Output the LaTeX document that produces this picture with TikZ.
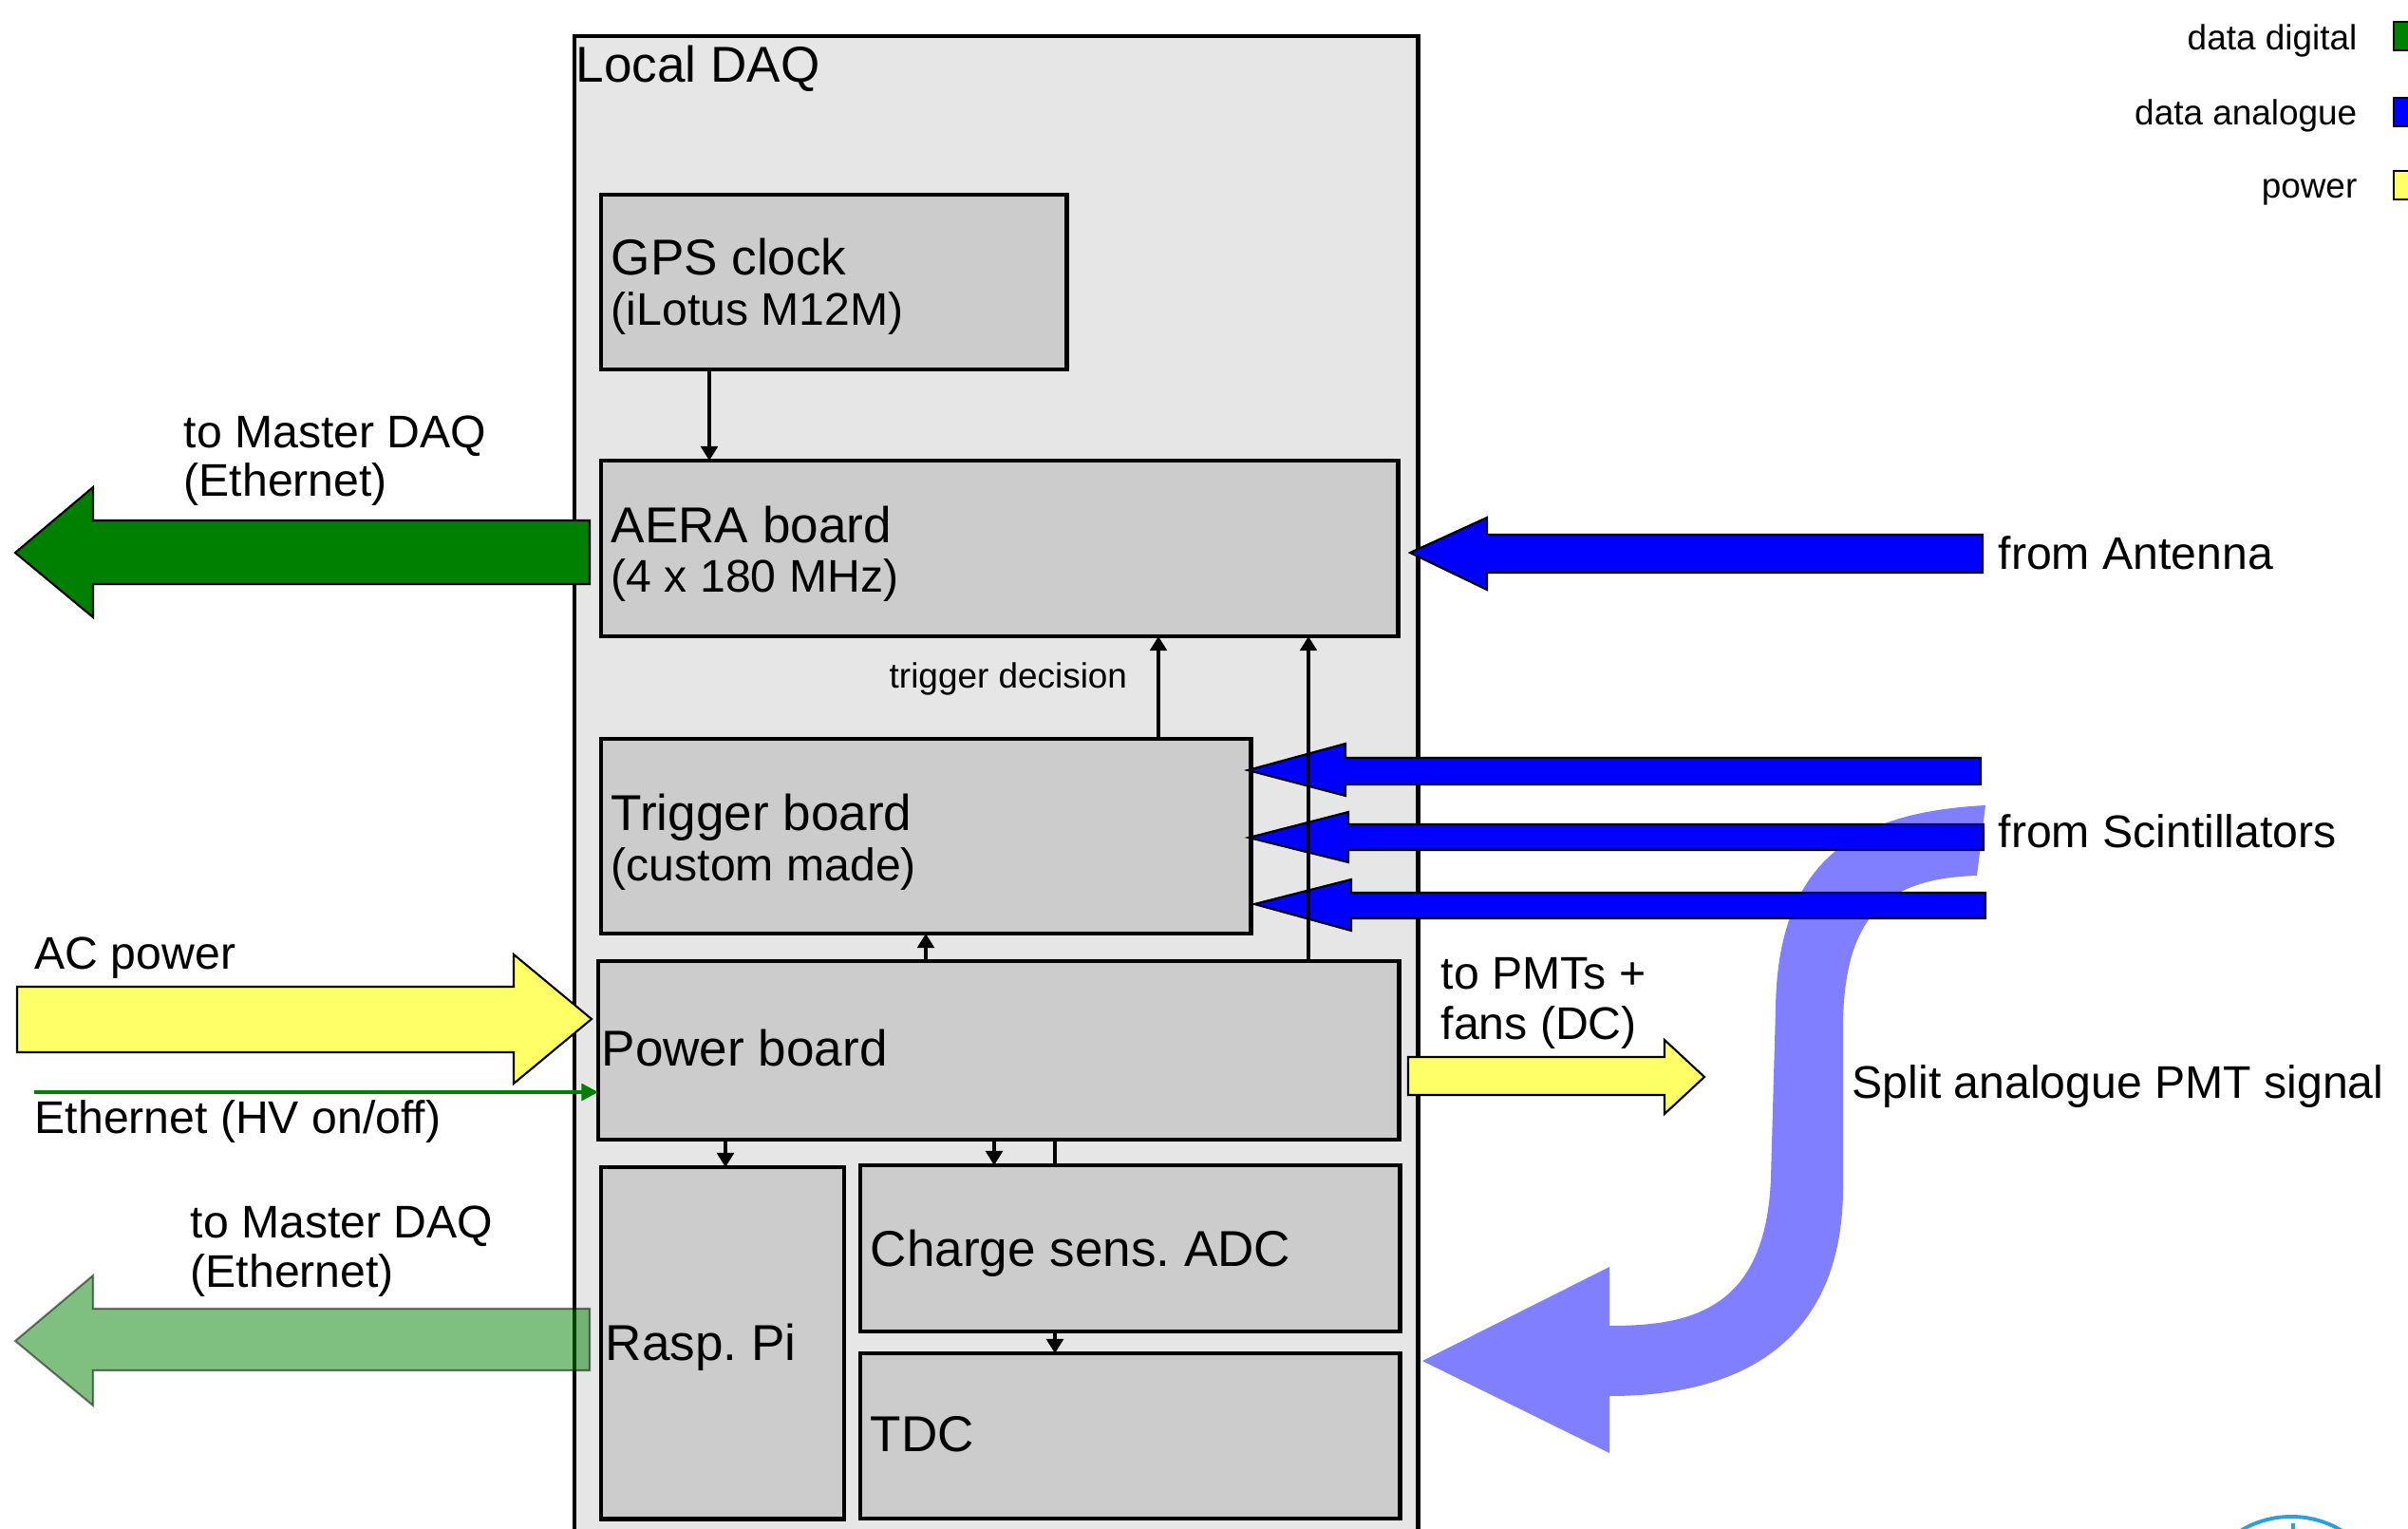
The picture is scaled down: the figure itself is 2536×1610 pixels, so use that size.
\documentclass[tikz,border=0pt]{standalone}
\usepackage{fontspec}
\setmainfont{Liberation Sans}
\usetikzlibrary{arrows.meta,calc}
\frenchspacing
\definecolor{boardgray}{RGB}{204,204,204}
\definecolor{daqgray}{RGB}{230,230,230}
\definecolor{digigreen}{RGB}{0,128,0}
\definecolor{anablue}{RGB}{0,0,255}
\definecolor{powyellow}{RGB}{255,255,102}
\definecolor{logoblue}{RGB}{40,160,225}
\newcommand\fbig{\fontsize{15.1pt}{15.1pt}\selectfont}
\newcommand\fmid{\fontsize{13.7pt}{13.7pt}\selectfont}
\newcommand\fsmall{\fontsize{10.5pt}{10.5pt}\selectfont}
\begin{document}
\begin{tikzpicture}[x=0.01cm,y=-0.01cm,
  board/.style={draw=black, line width=1.3pt, fill=boardgray, inner sep=0pt, outer sep=0pt, anchor=north west},
  boxtext/.style={inner sep=0pt, anchor=base west, font=\fbig},
  subtext/.style={inner sep=0pt, anchor=base west, font=\fmid},
  sidetext/.style={inner sep=0pt, anchor=base west, font=\fmid},
  legtext/.style={inner sep=0pt, anchor=base east, font=\fsmall},
  conn/.style={line width=0.9pt, -{Triangle[length=4.3pt,width=5.1pt]}},
  link/.style={line width=0.9pt},
  blockarrow/.style={draw=black, line width=0.6pt, line join=miter},
  legbox/.style={draw=black, line width=0.6pt}]
\useasboundingbox (0,0) rectangle (2536,1610);
\clip (0,0) rectangle (2536,1610);

% Local DAQ enclosure
\node[board, fill=daqgray, line width=1.2pt, minimum width=8.88cm, minimum height=17cm] (daq) at (605,38) {};
\node[boxtext] (daqlbl) at (606,87) {Local DAQ};

% boards
\node[board, minimum width=4.90cm, minimum height=1.84cm] (gps) at (633,205) {};
\node[board, minimum width=8.39cm, minimum height=1.85cm] (aera) at (633,485) {};
\node[board, minimum width=6.84cm, minimum height=2.05cm] (trig) at (633,778) {};
\node[board, minimum width=8.43cm, minimum height=1.88cm] (power) at (630,1012) {};
\node[board, minimum width=2.56cm, minimum height=3.70cm] (rpi) at (633,1229) {};
\node[board, minimum width=5.68cm, minimum height=1.75cm] (adc) at (906,1227) {};
\node[board, minimum width=5.68cm, minimum height=1.74cm] (tdc) at (906,1425) {};

\node[boxtext] (gpsa) at (643,290) {GPS clock};
\node[subtext] (gpsb) at (643,343) {(iLotus M12M)};
\node[boxtext] (aeraa) at (643,572) {AERA board};
\node[subtext] (aerab) at (643,624) {(4 x 180 MHz)};
\node[boxtext] (triga) at (643,875) {Trigger board};
\node[subtext] (trigb) at (643,928) {(custom made)};
\node[boxtext] (powera) at (633,1123) {Power board};
\node[boxtext] (rpia) at (637,1432) {Rasp. Pi};
\node[boxtext] (adca) at (916,1333) {Charge sens. ADC};
\node[boxtext] (tdca) at (916,1528) {TDC};
\node[inner sep=0pt, anchor=base west, font=\fsmall] (trigdec) at (936,725) {trigger decision};

% digital data out of the AERA board
\draw[blockarrow, fill=digigreen] (621,548) -- (98,548) -- (98,513) -- (16,582) -- (98,650) -- (98,615) -- (621,615) -- cycle;
\node[sidetext] (mastera) at (193,472) {to Master DAQ};
\node[sidetext] (masterb) at (193,523) {(Ethernet)};

% digital data out of the Raspberry Pi
\draw[blockarrow, fill=digigreen, fill opacity=0.5, draw opacity=0.5] (621,1378) -- (98,1378) -- (98,1343) -- (16,1412) -- (98,1480) -- (98,1443) -- (621,1443) -- cycle;
\node[sidetext] (masterc) at (200,1303) {to Master DAQ};
\node[sidetext] (masterd) at (200,1355) {(Ethernet)};

% AC power in
\draw[blockarrow, fill=powyellow] (18,1039) -- (541,1039) -- (541,1005) -- (623,1073) -- (541,1141) -- (541,1108) -- (18,1108) -- cycle;
\node[sidetext] (acpow) at (36,1021) {AC power};

% HV control over Ethernet
\coordinate (ethin) at (36,1150);
\draw[line width=1.1pt, draw=digigreen, -{Triangle[length=5pt,width=5pt,fill=digigreen]}] (ethin) -- (ethin -| power.west);
\node[sidetext] (ethlbl) at (36,1193) {Ethernet (HV on/off)};

% DC power out
\draw[blockarrow, fill=powyellow] (1483,1113) -- (1753,1113) -- (1753,1095) -- (1795,1134) -- (1753,1173) -- (1753,1153) -- (1483,1153) -- cycle;
\node[sidetext] (pmta) at (1517,1042) {to PMTs +};
\node[sidetext] (pmtb) at (1517,1094) {fans (DC)};

% analogue inputs
\draw[blockarrow, fill=anablue] (2088,563) -- (1566,563) -- (1566,545) -- (1485,582) -- (1566,621) -- (1566,603) -- (2088,603) -- cycle;
\node[sidetext] (antlbl) at (2104,600) {from Antenna};
\draw[blockarrow, fill=anablue] (2086,798) -- (1417,798) -- (1417,783) -- (1314,811) -- (1417,838) -- (1417,826) -- (2086,826) -- cycle;
\draw[blockarrow, fill=anablue] (2089,868) -- (1420,868) -- (1420,855) -- (1315,882) -- (1420,908) -- (1420,895) -- (2089,895) -- cycle;
\draw[blockarrow, fill=anablue] (2091,940) -- (1423,940) -- (1423,926) -- (1321,952) -- (1423,980) -- (1423,967) -- (2091,967) -- cycle;
\node[sidetext] (scilbl) at (2104,893) {from Scintillators};

% internal connections
\draw[conn] ($(gps.south west)+(114,0)$) -- ($(aera.north west)+(114,0)$);
\coordinate (tdec) at ($(trig.north west)+(587,0)$);
\draw[conn] (tdec) -- (tdec |- aera.south);
\coordinate (pwaera) at ($(power.north west)+(748,0)$);
\draw[conn] (pwaera) -- (pwaera |- aera.south);
\coordinate (pwtrig) at ($(power.north west)+(345,0)$);
\draw[conn] (pwtrig) -- (pwtrig |- trig.south);
\coordinate (pwrpi) at ($(power.south west)+(134,0)$);
\draw[conn] (pwrpi) -- (pwrpi |- rpi.north);
\coordinate (pwadc) at ($(power.south west)+(417,0)$);
\draw[conn] (pwadc) -- (pwadc |- adc.north);
\coordinate (pwtdc) at ($(power.south west)+(481,0)$);
\draw[link] (pwtdc) -- (pwtdc |- adc.north);
\coordinate (adctdc) at ($(adc.south west)+(205,0)$);
\draw[conn] (adctdc) -- (adctdc |- tdc.north);

% split analogue PMT signal
\fill[anablue, opacity=0.5] (2091,848) .. controls (1960,855) and (1872,900) .. (1870,1062)
  -- (1865,1240) .. controls (1860,1380) and (1780,1396) .. (1695,1396)
  -- (1695,1334) -- (1498,1433) -- (1695,1530) -- (1695,1470)
  .. controls (1850,1470) and (1941,1400) .. (1941,1250)
  -- (1941,1087) .. controls (1940,960) and (1990,925) .. (2082,922) -- cycle;
\node[sidetext] (splitlbl) at (1950,1156) {Split analogue PMT signal};

% legend
\node[legtext] (legdig) at (2483,53) {data digital};
\node[legtext] (legana) at (2483,132) {data analogue};
\node[legtext] (legpow) at (2483,209) {power};
\draw[legbox, fill=digigreen] (2521,23) rectangle (2551,53);
\draw[legbox, fill=anablue] (2521,103) rectangle (2551,133);
\draw[legbox, fill=powyellow] (2521,180) rectangle (2551,210);

% logo edge
\draw[logoblue, line width=1.1pt] (2413,1700) circle[radius=1.03cm];
\draw[logoblue, line width=1.1pt] (2415,1604) -- (2415,1612);
\end{tikzpicture}
\end{document}
